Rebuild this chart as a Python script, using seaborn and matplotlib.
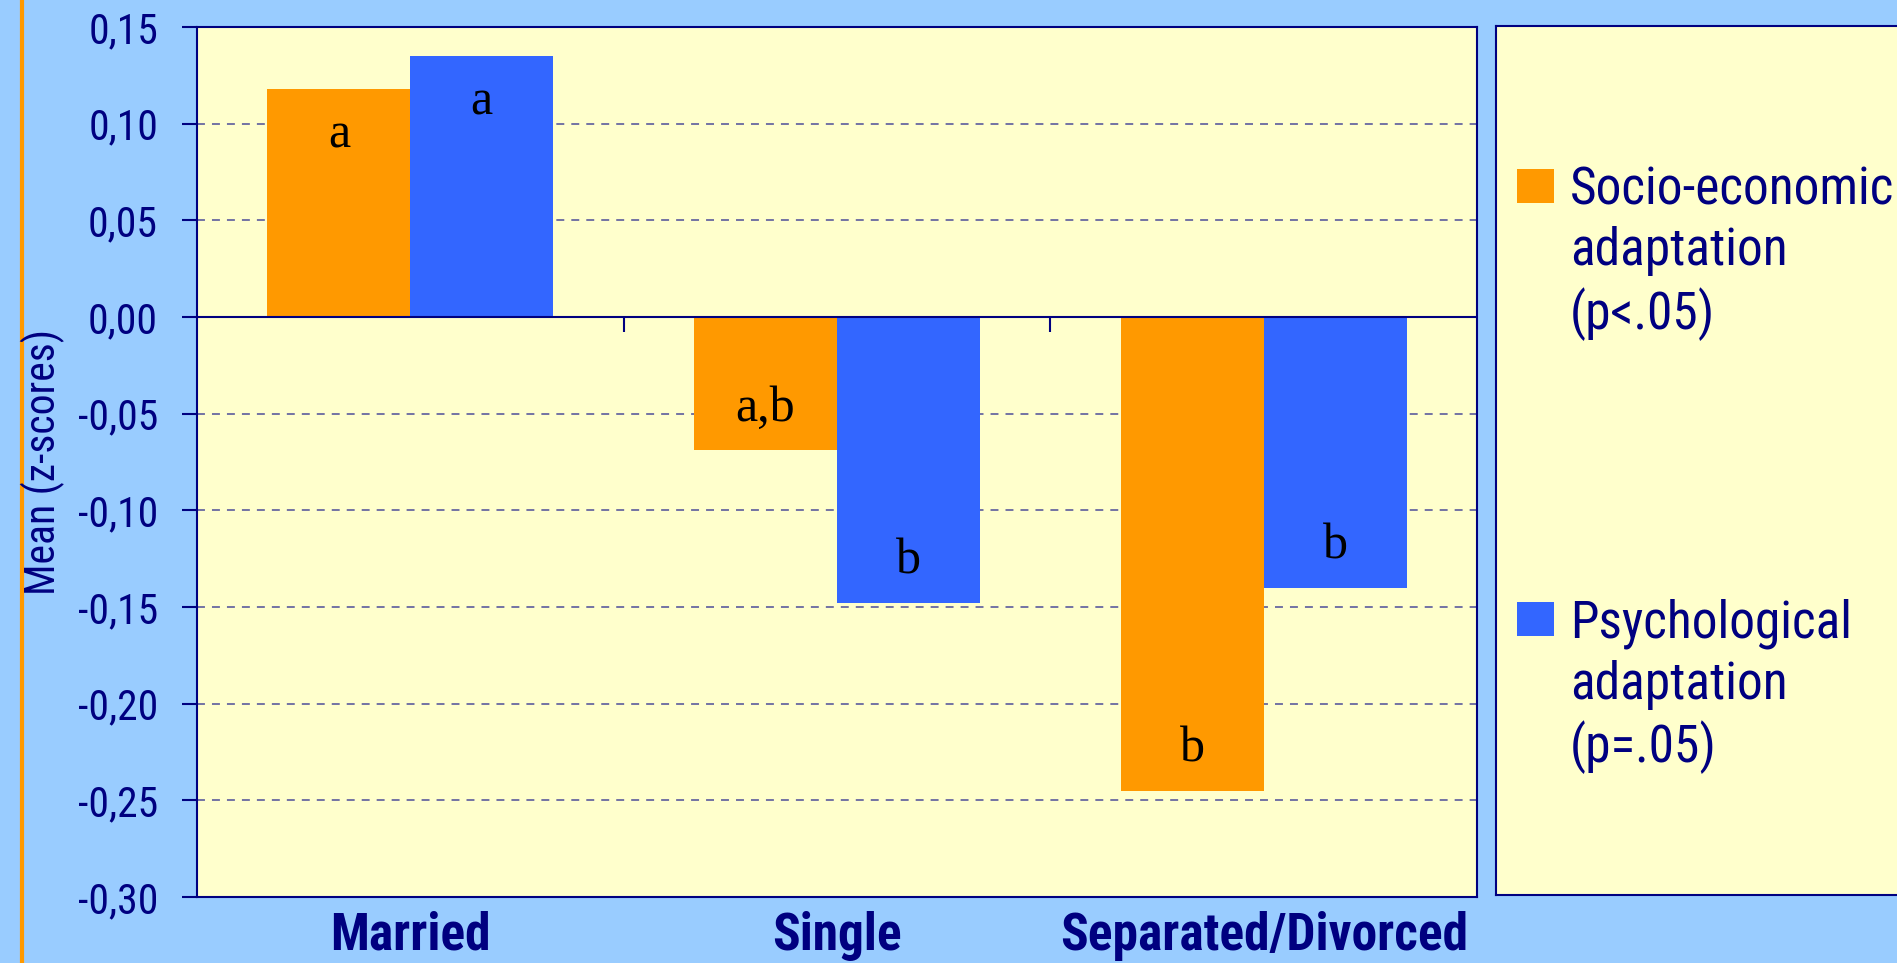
import matplotlib
matplotlib.use("Agg")
import matplotlib.pyplot as plt
from matplotlib.patches import Rectangle
from matplotlib.ticker import FuncFormatter, MultipleLocator
import pandas as pd
import seaborn as sns

# data
status = ["Married", "Single", "Separated/Divorced"]
socio_econ = [0.118, -0.069, -0.245]
psycho = [0.135, -0.148, -0.140]
socio_letters = ["a", "a,b", "b"]
psycho_letters = ["a", "b", "b"]
series = ["Socio-economic\nadaptation\n(p<.05)", "Psychological\nadaptation\n(p=.05)"]

BG = "#99CCFF"
PANEL = "#FFFFCC"
NAVY = "#000080"
ORANGE = "#FF9900"
BLUE = "#3366FF"
NARROW = ["Roboto Condensed", "Liberation Sans", "DejaVu Sans"]
SERIF = ["Liberation Serif", "DejaVu Serif"]

sns.set_theme(style="white")
plt.rcParams["font.family"] = NARROW

df = pd.DataFrame({
    "status": status * 2,
    "mean": socio_econ + psycho,
    "measure": [series[0]] * 3 + [series[1]] * 3,
})

W, H, DPI = 1897, 963, 100
fig = plt.figure(figsize=(W / DPI, H / DPI), dpi=DPI, facecolor=BG)
ax = fig.add_axes([197 / W, 1 - 897 / H, 1280 / W, 870 / H], facecolor=PANEL)

sns.barplot(data=df, x="status", y="mean", hue="measure", palette=[ORANGE, BLUE],
            width=0.67, errorbar=None, saturation=1, linewidth=0, legend=False,
            ax=ax, zorder=2)

ax.set_xlim(-0.5, 2.5)
ax.set_ylim(-0.30, 0.15)
ax.yaxis.set_major_locator(MultipleLocator(0.05))
ax.yaxis.set_major_formatter(FuncFormatter(
    lambda v, _: f"{round(v, 2) + 0:.2f}".replace(".", ",")))
ax.set_axisbelow(True)
ax.yaxis.grid(True, color="#4d4d99", linewidth=1.1, linestyle=(0, (5.2, 4.6)))
ax.xaxis.grid(False)

# zero line with group-boundary ticks
ax.axhline(0, color=NAVY, lw=1.5, zorder=3)
ax.vlines([0.5, 1.5], -0.0078, 0, color=NAVY, lw=1.5, zorder=3)

for s in ax.spines.values():
    s.set_color(NAVY)
    s.set_linewidth(1.5)

ax.tick_params(axis="y", direction="out", length=11, width=1.5, color=NAVY,
               pad=17, labelsize=30, labelcolor=NAVY, left=True)
ax.tick_params(axis="x", length=0, pad=10, labelcolor=NAVY)
for lab in ax.get_xticklabels():
    lab.set_fontsize(37)
    lab.set_fontweight("bold")
ax.set_xlabel("")
ax.set_ylabel("Mean (z-scores)", fontsize=30, color=NAVY, va="center")
ax.yaxis.set_label_coords(-0.1203, 0.5)

# significance letters inside the bar ends
for bars, letters in zip(ax.containers, [socio_letters, psycho_letters]):
    for rect, txt in zip(bars, letters):
        x = rect.get_x() + rect.get_width() / 2
        val = rect.get_y() + rect.get_height()
        off = -42 if val > 0 else 21
        ax.annotate(txt, (x, val), xytext=(0, off), textcoords="offset points",
                    ha="center", va="baseline", fontsize=36, family=SERIF,
                    color="black", zorder=4)

# legend panel
lax = fig.add_axes([1496 / W, 1 - 895 / H, 474 / W, 869 / H], facecolor=PANEL)
lax.set_xticks([])
lax.set_yticks([])
lax.set_xlim(0, 1)
lax.set_ylim(0, 1)
for s in lax.spines.values():
    s.set_color(NAVY)
    s.set_linewidth(1.5)
for col, lab, ytop in zip([ORANGE, BLUE], series, [0.8355, 0.3372]):
    lax.add_patch(Rectangle((0.0443, ytop - 0.0391), 0.078, 0.0391,
                            facecolor=col, edgecolor="none"))
    lax.text(0.156, ytop + 0.004, lab, ha="left", va="top", fontsize=37,
             color=NAVY, linespacing=1.27)

# orange rule at the left edge
fig.add_artist(plt.Line2D([22 / W, 22 / W], [0, 1], transform=fig.transFigure,
                          color=ORANGE, lw=3, zorder=0))

fig.savefig("out.png", dpi=DPI, facecolor=BG)
